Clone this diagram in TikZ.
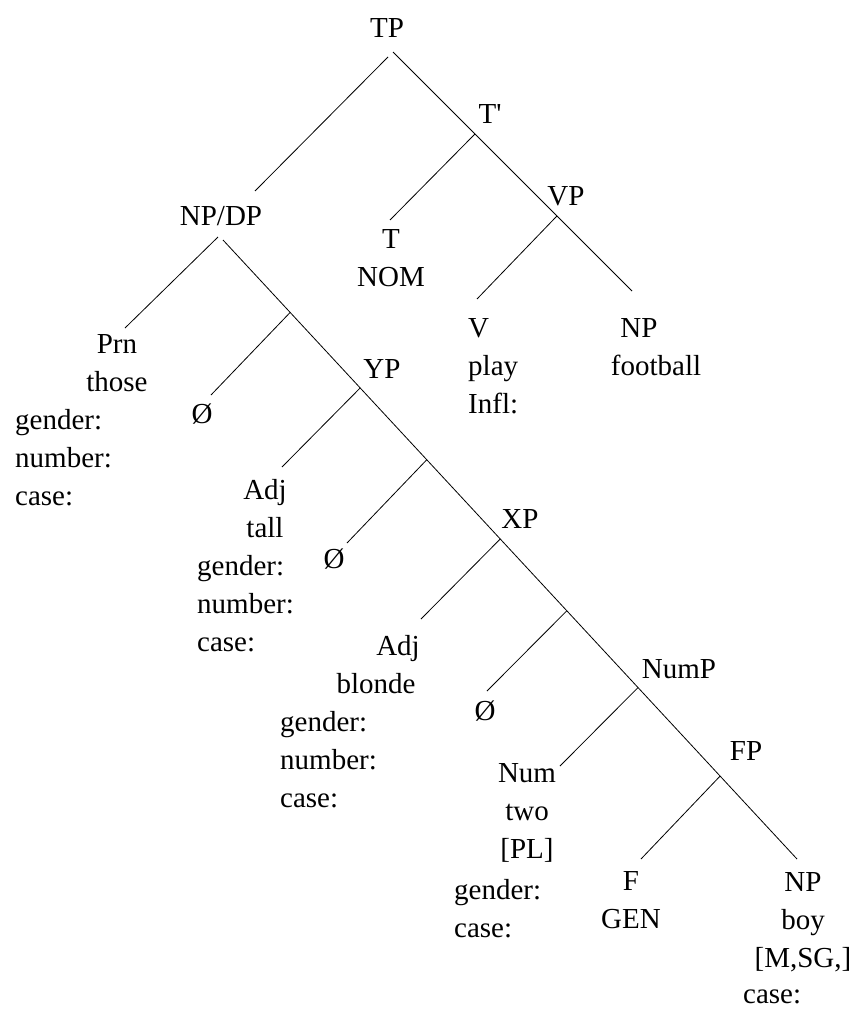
\documentclass[tikz,border=0pt]{standalone}
\usepackage{fontspec}
\setmainfont{Liberation Serif}[Ligatures=TeXOff]

\begin{document}
\begin{tikzpicture}[x = 1pt, y = -1pt,
	lbl/.style = {anchor = base, inner sep = 0pt, font = \fontsize{29}{38}\selectfont},
	blk/.style = {lbl, align = center},
	feat/.style = {lbl, anchor = base west, align = left},
	branch/.style = {line width = 0.8pt}]

	% Bounding box, same proportions as the original page
	
	\useasboundingbox (0, 0) rectangle (851, 1009);
	
	
	% Upper part: TP, T', VP
	% (blocks of several lines are placed at the baseline of their last line)
	
	\node [lbl] (tp) at (387, 37) {TP};
	\node [lbl] (tbar) at (490, 123) {T'};
	\node [lbl] (vp) at (566, 205) {VP};
	\node [blk] (tnom) at (391, 286) {T\\NOM};
	\node [feat] (verb) at (468, 413) {V\\play\\Infl:};
	\node [lbl] (npobj) at (639, 337) {NP};
	\node [lbl] (football) at (656, 375) {football};
	
	
	% Subject: NP/DP and its long right branch
	
	\node [lbl] (npdp) at (221, 225) {NP/DP};
	\node [blk] (prn) at (117, 391) {Prn\\those};
	\node [feat] (prnfeat) at (15, 505) {gender:\\number:\\case:};
	\node [lbl] (null1) at (202, 423) {Ø};
	\node [lbl] (yp) at (382, 378) {YP};
	\node [blk] (adjtall) at (265, 537) {Adj\\tall};
	\node [feat] (tallfeat) at (197, 651) {gender:\\number:\\case:};
	\node [lbl] (null2) at (334, 568) {Ø};
	\node [lbl] (xp) at (520, 528) {XP};
	\node [lbl] (adjbl) at (398, 655) {Adj};
	\node [lbl] (blonde) at (376, 693) {blonde};
	\node [feat] (blfeat) at (280, 807) {gender:\\number:\\case:};
	\node [lbl] (null3) at (485, 720) {Ø};
	\node [lbl] (nump) at (679, 678) {NumP};
	\node [blk] (num) at (527, 858) {Num\\two\\{[PL]}};
	\node [feat] (numfeat) at (454, 937) {gender:\\case:};
	\node [lbl] (fp) at (746, 760) {FP};
	\node [blk] (fgen) at (631, 928) {F\\GEN};
	\node [blk] (npboy) at (803, 967) {NP\\boy\\{[M,SG,]}};
	\node [feat] (boyfeat) at (743, 1003) {case:};
	
	
	% Branches of the upper part
	
	\draw [branch] ([shift = {(1, 20)}] tp.base) -- ([shift = {(34, -34)}] npdp.base);
	\draw [branch] ([shift = {(6, 15)}] tp.base) -- ([shift = {(-7, -46)}] npobj.base)
		coordinate [pos = 0.343] (jtbar)
		coordinate [pos = 0.686] (jvp);
	\draw [branch] (jtbar) -- ([shift = {(-1, -66)}] tnom.base);
	\draw [branch] (jvp) -- ([shift = {(9, -114)}] verb.base west);
	
	
	% Branches of the subject
	
	\draw [branch] ([shift = {(-3, 12)}] npdp.base) -- ([shift = {(8, -63)}] prn.base);
	\draw [branch] ([shift = {(2, 15)}] npdp.base) -- ([shift = {(-6, -108)}] npboy.base)
		coordinate [pos = 0.117] (j1)
		coordinate [pos = 0.239] (j2)
		coordinate [pos = 0.355] (j3)
		coordinate [pos = 0.483] (j4)
		coordinate [pos = 0.599] (j5)
		coordinate [pos = 0.723] (j6)
		coordinate [pos = 0.866] (j7);
	\draw [branch] (j1) -- ([shift = {(9, -28)}] null1.base);
	\draw [branch] (j2) -- ([shift = {(17, -70)}] adjtall.base);
	\draw [branch] (j3) -- ([shift = {(13, -25)}] null2.base);
	\draw [branch] (j4) -- ([shift = {(23, -36)}] adjbl.base);
	\draw [branch] (j5) -- ([shift = {(2, -29)}] null3.base);
	\draw [branch] (j6) -- ([shift = {(33, -92)}] num.base);
	\draw [branch] (j7) -- ([shift = {(10, -69)}] fgen.base);

\end{tikzpicture}
\end{document}
